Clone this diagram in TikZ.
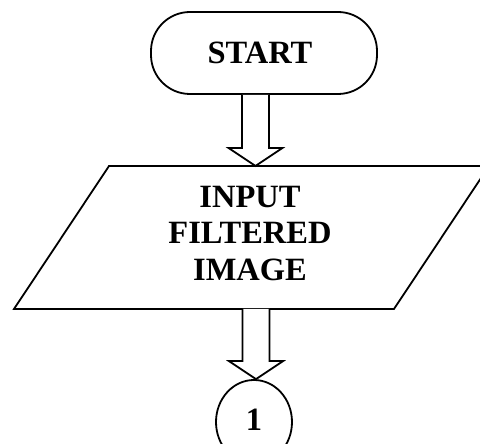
\documentclass[tikz,border=0pt]{standalone}
\usepackage{fontspec}
\setmainfont{Liberation Serif}
\usetikzlibrary{calc,shapes.geometric}

% block (hollow) arrow: #1 = x of shaft centre, #2 = source point, #3 = target point
\newcommand\blockarrow[3]{%
  \draw[arrowline] let \p1=(#2), \p2=(#3) in
    (#1pt-13.5pt,\y1) -- (#1pt-13.5pt,\y2+18pt) -- (#1pt-27pt,\y2+18pt) --
    (#1pt,\y2) -- (#1pt+27pt,\y2+18pt) -- (#1pt+13.5pt,\y2+18pt) --
    (#1pt+13.5pt,\y1);}

\begin{document}
\begin{tikzpicture}[x=1pt,y=1pt,
  line width=1.8pt,
  arrowline/.style={draw=black, fill=white, line join=miter},
  label text/.style={font=\bfseries\fontsize{32.5}{36.5}\selectfont, align=center, inner sep=0pt},
  terminal/.style={draw, rectangle, rounded corners=39pt, minimum width=226pt, minimum height=82pt},
  connector/.style={draw, ellipse, minimum width=76pt, minimum height=84pt, inner sep=0pt}]
\useasboundingbox (0,0) rectangle (480,444);
\clip (0,0) rectangle (480,444);

% start terminal
\node[terminal] (start) at (264,391) {};
\node[label text] (starttext) at (260,391) {START};

% input parallelogram
\coordinate (inBL) at (14,135);
\coordinate (inBR) at (394,135);
\coordinate (inTR) at (489,278);
\coordinate (inTL) at (109,278);
\coordinate (inTop) at (256,278);
\coordinate (inBottom) at (256,135);
\draw[line join=miter] (inBL) -- (inBR) -- (inTR) -- (inTL) -- cycle;
\node[label text] (input) at (250,210.5) {INPUT\\FILTERED\\IMAGE};

% off-page connector
\node[connector] (conn) at (254,22) {};
\node[label text] (conntext) at (254,24) {1};

% flow arrows
\blockarrow{255.5}{start.south}{inTop}
\blockarrow{256}{inBottom}{conn.north}
\end{tikzpicture}
\end{document}
